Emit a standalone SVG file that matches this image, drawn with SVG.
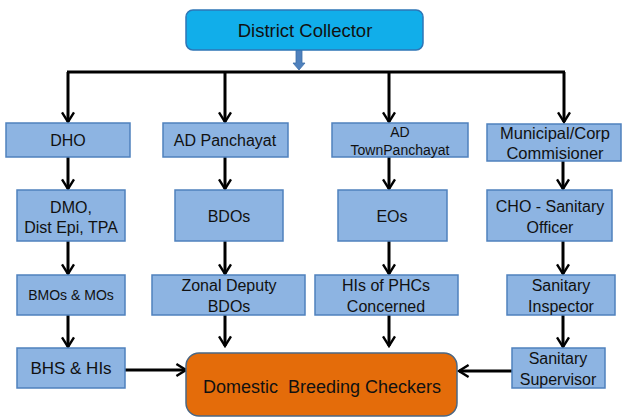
<svg xmlns="http://www.w3.org/2000/svg" width="622" height="417" viewBox="0 0 622 417">
<defs>
<marker id="ah" viewBox="0 0 12 12" refX="10" refY="6" markerWidth="4.8" markerHeight="4.8" orient="auto" markerUnits="strokeWidth">
<path d="M2,1 L10,6 L2,11" fill="none" stroke="#000" stroke-width="2"/>
</marker>
<style>
.box{fill:#8DB4E2;stroke:#4F81BD;stroke-width:1.5}
.t{font-family:"Liberation Sans",Arial,sans-serif;font-size:16px;fill:#111;text-anchor:middle}
.c{stroke:#000;stroke-width:3;fill:none}
.a{stroke:#000;stroke-width:3;fill:none;marker-end:url(#ah)}
</style>
</defs>
<rect width="622" height="417" fill="#fff"/>

<g id="connectors">
<path class="c" d="M67,72 H565"/>
<path class="a" d="M68,72 V122"/>
<path class="a" d="M225,72 V122"/>
<path class="a" d="M389,72 V122"/>
<path class="a" d="M564,72 V122"/>
<path class="a" d="M68,157 V189"/>
<path class="a" d="M225,157 V189"/>
<path class="a" d="M389,157 V189"/>
<path class="a" d="M563,150 V189"/>
<path class="a" d="M68,241 V274"/>
<path class="a" d="M225,241 V274"/>
<path class="a" d="M389,241 V274"/>
<path class="a" d="M563,241 V274"/>
<path class="a" d="M68,315 V347"/>
<path class="a" d="M225,315 V346"/>
<path class="a" d="M389,315 V346"/>
<path class="a" d="M563,315 V347"/>
<path class="a" d="M125,370 H186"/>
<path class="a" d="M512,371 H459"/>
<path d="M296,50 V63 H293 L299,70 L305,63 H302 V50 Z" fill="#4F81BD" stroke="#3E6EA8" stroke-width="0.8"/>
</g>

<g id="district-collector">
<rect x="186" y="10" width="237" height="40" rx="7" fill="#11AEEA" stroke="#2E75B6" stroke-width="1.5"/>
<text class="t" x="305" y="37" style="font-size:18.5px">District Collector</text>
</g>

<g id="dho">
<rect class="box" x="6" y="123" width="124" height="34"/>
<text class="t" x="68" y="146">DHO</text>
</g>
<g id="ad-panchayat">
<rect class="box" x="163" y="123" width="125" height="34"/>
<text class="t" x="225" y="146">AD Panchayat</text>
</g>
<g id="ad-townpanchayat">
<rect class="box" x="332" y="123" width="136" height="34"/>
<text class="t" x="400" y="137" style="font-size:14px">AD</text>
<text class="t" x="400" y="155" style="font-size:14px">TownPanchayat</text>
</g>
<g id="municipal">
<rect class="box" x="487" y="124" width="134" height="37"/>
<text class="t" x="555" y="139" style="font-size:16.5px">Municipal/Corp</text>
<text class="t" x="555" y="159" style="font-size:16.5px">Commisioner</text>
</g>

<g id="dmo">
<rect class="box" x="17" y="190" width="108" height="51"/>
<text class="t" x="71" y="213">DMO,</text>
<text class="t" x="71" y="233">Dist Epi, TPA</text>
</g>
<g id="bdos">
<rect class="box" x="175" y="190" width="108" height="51"/>
<text class="t" x="229" y="222">BDOs</text>
</g>
<g id="eos">
<rect class="box" x="338" y="190" width="109" height="51"/>
<text class="t" x="392" y="222">EOs</text>
</g>
<g id="cho">
<rect class="box" x="487" y="190" width="125" height="51"/>
<text class="t" x="550" y="212">CHO - Sanitary</text>
<text class="t" x="550" y="233">Officer</text>
</g>

<g id="bmos">
<rect class="box" x="17" y="275" width="108" height="40"/>
<text class="t" x="71" y="300" style="font-size:14px">BMOs &amp; MOs</text>
</g>
<g id="zonal-deputy">
<rect class="box" x="152" y="275" width="153" height="40"/>
<text class="t" x="229" y="291">Zonal Deputy</text>
<text class="t" x="229" y="312">BDOs</text>
</g>
<g id="his-phcs">
<rect class="box" x="315" y="275" width="143" height="40"/>
<text class="t" x="386" y="291">HIs of PHCs</text>
<text class="t" x="386" y="312">Concerned</text>
</g>
<g id="sanitary-inspector">
<rect class="box" x="507" y="275" width="108" height="40"/>
<text class="t" x="561" y="291">Sanitary</text>
<text class="t" x="561" y="312">Inspector</text>
</g>

<g id="bhs">
<rect class="box" x="17" y="348" width="108" height="40"/>
<text class="t" x="71" y="374" style="font-size:17px">BHS &amp; HIs</text>
</g>
<g id="domestic-breeding-checkers">
<rect x="186" y="353" width="271" height="63" rx="13" fill="#E46C0A" stroke="#4A6784" stroke-width="1.5"/>
<text class="t" x="322" y="393" style="font-size:18px" xml:space="preserve">Domestic  Breeding Checkers</text>
</g>
<g id="sanitary-supervisor">
<rect class="box" x="512" y="348" width="93" height="40"/>
<text class="t" x="558" y="364">Sanitary</text>
<text class="t" x="558" y="385">Supervisor</text>
</g>
</svg>
